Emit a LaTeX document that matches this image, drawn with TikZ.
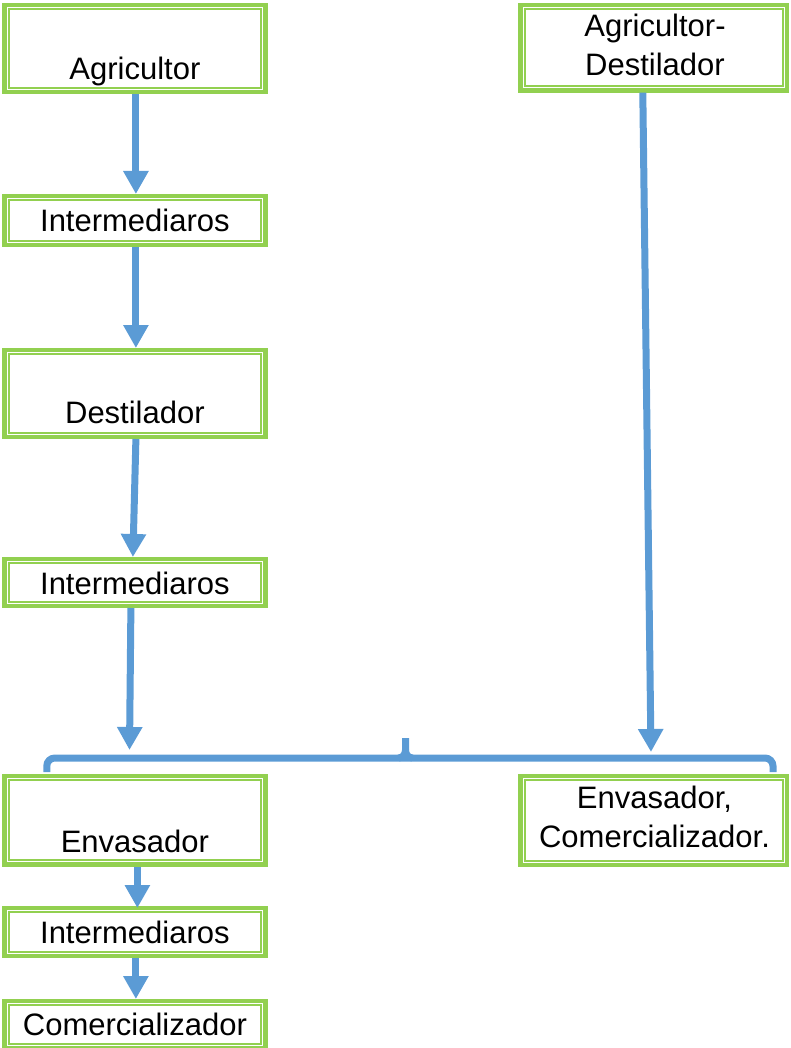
\documentclass[tikz,border=0pt]{standalone}
\usepackage{fontspec}
\setmainfont{Liberation Sans}
\usetikzlibrary{arrows.meta,calc}
\definecolor{grn}{RGB}{146,208,80}
\definecolor{blu}{RGB}{91,155,213}
\begin{document}
\begin{tikzpicture}[x=1pt,y=-1pt,
  box/.style={draw=grn, line width=4.3pt, fill=white, inner sep=0pt,
    path picture={\draw[grn, line width=2pt]
      ([shift={(4.15pt,-4.15pt)}]path picture bounding box.north west) rectangle
      ([shift={(-4.15pt,4.15pt)}]path picture bounding box.south east);}},
  lbox/.style={box, minimum width=260.9pt},
  rbox/.style={box, minimum width=266.7pt},
  lbl/.style={anchor=base, inner sep=0pt, font=\fontsize{31pt}{37pt}\selectfont},
  flow/.style={draw=blu, line width=7pt, -{Triangle[width=24pt,length=23pt]}},
  bline/.style={draw=blu, line width=7pt},
]
\useasboundingbox (0,0) rectangle (790,1048);

% boxes of the left column
\node[lbox, minimum height=87.3pt] (agr)  at (134.9,48.5)  {};
\node[lbox, minimum height=48.7pt] (int1) at (134.9,220.5) {};
\node[lbox, minimum height=86.7pt] (dest) at (134.9,393.5) {};
\node[lbox, minimum height=46.7pt] (int2) at (134.9,582.5) {};
\node[lbox, minimum height=88.4pt] (env)  at (134.9,820.4) {};
\node[lbox, minimum height=47.7pt] (int3) at (134.9,932)   {};
\node[lbox, minimum height=46.7pt] (com)  at (134.9,1024.5) {};
% boxes of the right column
\node[rbox, minimum height=85.2pt] (agrd) at (653.8,47.8)  {};
\node[rbox, minimum height=88.7pt] (envc) at (653.8,820.5) {};

% texts
\node[lbl] (tagr)  at (134.9,80)    {Agricultor};
\node[lbl] (tint1) at (134.9,232)   {Intermediaros};
\node[lbl] (tdest) at (134.9,423.5) {Destilador};
\node[lbl] (tint2) at (134.9,594)   {Intermediaros};
\node[lbl] (tenv)  at (134.9,852)   {Envasador};
\node[lbl] (tint3) at (134.9,943.5) {Intermediaros};
\node[lbl] (tcom)  at (134.9,1035)  {Comercializador};
\node[lbl] (tagrd1) at (655,37)    {Agricultor-};
\node[lbl] (tagrd2) at (655,76)    {Destilador};
\node[lbl] (tenvc1) at (654.5,808) {Envasador,};
\node[lbl] (tenvc2) at (654.5,847) {Comercializador.};

% brace joining both chains above the packers
\coordinate (bl) at ($(env.north west)+(44.5,-2)$);
\coordinate (br) at ($(envc.north east)+(-16.3,-2)$);
\coordinate (bm) at (405.5,758);
\draw[bline, rounded corners=8pt] (bl) -- (bl |- bm) -- (br |- bm) -- (br);
\draw[bline] ($(bm)+(-7,0)$) to[out=0,in=-90] ($(bm)+(0,-8)$) -- ($(bm)+(0,-20)$);
\draw[bline] ($(bm)+(7,0)$) to[out=180,in=-90] ($(bm)+(0,-8)$);
\coordinate (bk1) at (129.5,750);
\coordinate (bk2) at (651,752);

% flow arrows
\draw[flow] ([xshift=1pt]agr.south)  -- ([xshift=1pt]int1.north);
\draw[flow] ([xshift=1pt]int1.south) -- ([xshift=1pt]dest.north);
\draw[flow] ([xshift=1pt]dest.south) -- ([xshift=-2pt]int2.north);
\draw[flow] ([xshift=-4pt]int2.south) -- (bk1);
\draw[flow] ([xshift=-11pt]agrd.south) -- (bk2);
\draw[flow] ([xshift=2.5pt]env.south) -- ([xshift=2.5pt,yshift=-2pt]int3.north);
\draw[flow] ([xshift=1pt]int3.south) -- ([xshift=1pt]com.north);
\end{tikzpicture}
\end{document}
